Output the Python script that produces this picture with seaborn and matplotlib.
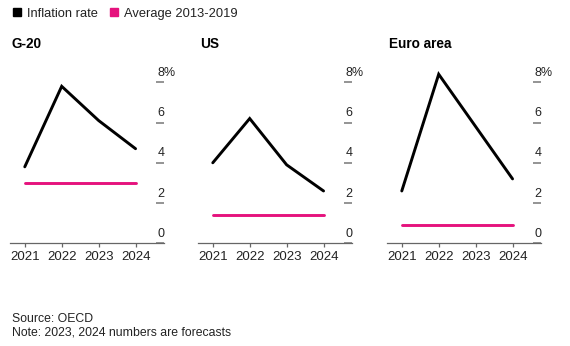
import matplotlib
matplotlib.use("Agg")
import matplotlib.pyplot as plt
import matplotlib.transforms as mtransforms
from matplotlib.lines import Line2D
import numpy as np
import pandas as pd
import seaborn as sns

# Headline inflation, % (2023 and 2024 are forecasts)
years = [2021, 2022, 2023, 2024]
regions = ["G-20", "US", "Euro area"]
inflation_g20 = [3.8, 7.8, 6.1, 4.7]
inflation_us = [4.0, 6.2, 3.9, 2.6]
inflation_euro = [2.6, 8.4, 5.8, 3.2]
# Average inflation over 2013-2019
average_2013_2019 = {"G-20": 3.0, "US": 1.4, "Euro area": 0.9}
y_ticks = [0, 2, 4, 6, 8]
y_tick_labels = ["0", "2", "4", "6", "8%"]

series_names = ["Inflation rate", "Average 2013-2019"]
colors = {"Inflation rate": "#000000", "Average 2013-2019": "#e5127d"}

rows = []
for region, vals in zip(regions, [inflation_g20, inflation_us, inflation_euro]):
    for yr, v in zip(years, vals):
        rows.append({"region": region, "year": yr, "series": "Inflation rate", "value": v})
    for yr in years:
        rows.append({"region": region, "year": yr, "series": "Average 2013-2019",
                     "value": average_2013_2019[region]})
df = pd.DataFrame(rows)

sns.set_theme(style="white")
plt.rcParams["font.family"] = ["Liberation Sans", "DejaVu Sans"]

W, H = 570, 346
fig = plt.figure(figsize=(W / 100, H / 100), dpi=100)

panel_left_px = [10, 198, 387]
panel_width_px = 154
axis_bottom_px = 243.3
px_per_unit = 20.125
ymax = 8.6
ax_top_px = axis_bottom_px - ymax * px_per_unit

text_color = "#222222"
axis_color = "#666666"

for region, left_px in zip(regions, panel_left_px):
    ax = fig.add_axes([left_px / W, 1 - axis_bottom_px / H,
                       panel_width_px / W, (axis_bottom_px - ax_top_px) / H])
    sub = df[df["region"] == region]
    sns.lineplot(data=sub, x="year", y="value", hue="series", hue_order=series_names,
                 palette=colors, linewidth=2.1, legend=False, ax=ax)
    for line in ax.lines:
        line.set_solid_joinstyle("miter")
        line.set_clip_on(False)

    ax.set_xlim(2020.6, 2024.77)
    ax.set_ylim(0, ymax)
    ax.set_xlabel("")
    ax.set_ylabel("")
    for side in ["top", "left", "right"]:
        ax.spines[side].set_visible(False)
    ax.spines["bottom"].set_color(axis_color)
    ax.spines["bottom"].set_linewidth(0.9)

    ax.set_xticks(years)
    ax.set_xticklabels([str(y) for y in years])
    ax.tick_params(axis="x", direction="out", length=3, width=0.9, color=axis_color,
                   pad=2.5, labelsize=9.5, labelcolor=text_color, bottom=True)

    ax.yaxis.tick_right()
    ax.set_yticks(y_ticks)
    ax.tick_params(axis="y", direction="in", length=5.5, width=1.1, color="#777777",
                   right=True, labelright=False)

    # Value labels sit above their tick dashes
    base = ax.get_yaxis_transform()
    off = mtransforms.ScaledTranslation(-6.5 / 100, 6.5 / 100, fig.dpi_scale_trans)
    for v, lab in zip(y_ticks, y_tick_labels):
        ax.text(1.0, v, lab, transform=base + off, ha="left", va="baseline",
                fontsize=9, color=text_color)

    fig.text(left_px / W + 2 / W, 1 - 48.5 / H, region, fontsize=9.8,
             fontweight="bold", color="#000000", ha="left", va="baseline")

handles = [Line2D([], [], linestyle="none", marker="s", markersize=6.0,
                  markerfacecolor=colors[s], markeredgecolor=colors[s]) for s in series_names]
fig.legend(handles, series_names, loc="upper left", bbox_to_anchor=(4 / W, 1 - 0 / H),
           ncol=2, frameon=False, fontsize=9.3, handlelength=0.8, handletextpad=0.35,
           columnspacing=0.9, borderaxespad=0.2, labelcolor=text_color)

fig.text(12 / W, 1 - 321.5 / H, "Source: OECD", fontsize=8.8, color=text_color,
         ha="left", va="baseline")
fig.text(12 / W, 1 - 335.8 / H, "Note: 2023, 2024 numbers are forecasts", fontsize=8.8,
         color=text_color, ha="left", va="baseline")

fig.savefig("out.png", dpi=100, facecolor="white")
